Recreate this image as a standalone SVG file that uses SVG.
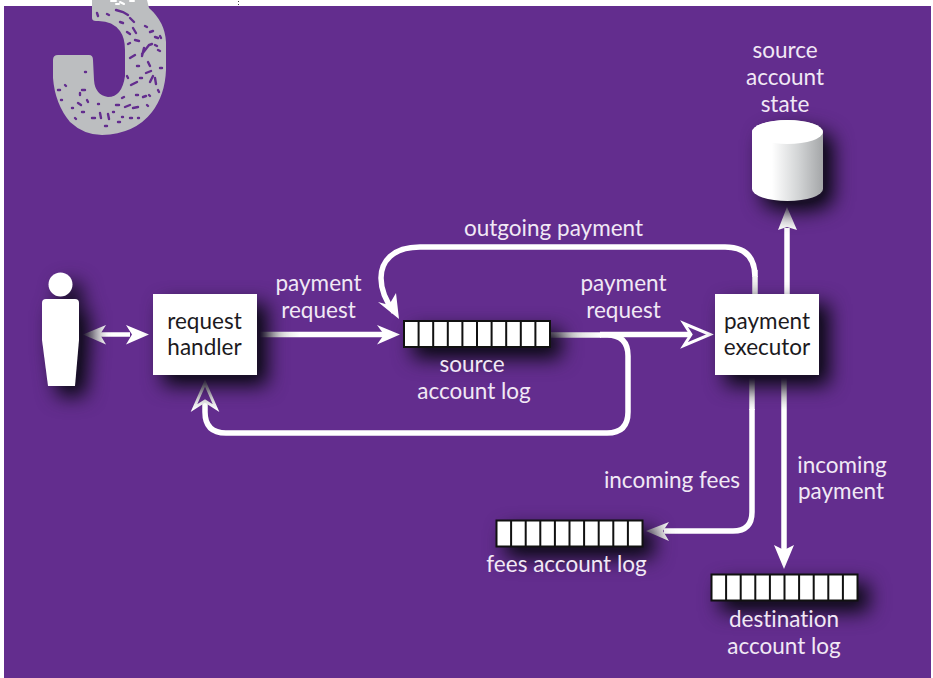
<svg xmlns="http://www.w3.org/2000/svg" width="933" height="678" viewBox="0 0 933 678">
<style>
text{font-family:"Lato","Noto Sans",sans-serif;font-size:22.5px;text-anchor:middle;font-variant-ligatures:none}
.l{fill:#f1e8f5}
.d{fill:#1c1a1e}
.box{fill:#fff}
.cell{fill:#fff;stroke:#111;stroke-width:2}
.w{fill:none;stroke:#fff;stroke-width:5.500;stroke-linejoin:round}
.hd{fill:#fff}
.ho{fill:#632d8e;stroke:#fff;stroke-width:3;stroke-linejoin:miter}
</style>
<defs>
<filter id="sh" x="-100%" y="-200%" width="300%" height="500%" color-interpolation-filters="sRGB">
<feGaussianBlur in="SourceAlpha" stdDeviation="10"/><feOffset dx="10" dy="10"/>
<feColorMatrix values="0 0 0 0 .1  0 0 0 0 .06  0 0 0 0 .16  0 0 0 1.300 0"/>
<feMerge><feMergeNode/><feMergeNode in="SourceGraphic"/></feMerge>
</filter>
<linearGradient id="cyl" x1="752" x2="823" y1="0" y2="0" gradientUnits="userSpaceOnUse">
<stop offset="0" stop-color="#fff"/><stop offset=".28" stop-color="#fff"/><stop offset=".65" stop-color="#d3d5d6"/><stop offset="1" stop-color="#a4a6a8"/>
</linearGradient>
<linearGradient id="gH1" x1="257" x2="300" y1="0" y2="0" gradientUnits="userSpaceOnUse"><stop offset="0" stop-color="#bbb"/><stop offset="1" stop-color="#fff"/></linearGradient>
<linearGradient id="gH2" x1="551" x2="600" y1="0" y2="0" gradientUnits="userSpaceOnUse"><stop offset="0" stop-color="#bbb"/><stop offset="1" stop-color="#fff"/></linearGradient>
<linearGradient id="gV1" x1="0" x2="0" y1="376" y2="410" gradientUnits="userSpaceOnUse"><stop offset="0" stop-color="#aaa"/><stop offset="1" stop-color="#fff"/></linearGradient>
<linearGradient id="gV2" x1="0" x2="0" y1="294" y2="270" gradientUnits="userSpaceOnUse"><stop offset="0" stop-color="#ddd"/><stop offset="1" stop-color="#fff"/></linearGradient>
<linearGradient id="gL" x1="83" x2="108" y1="0" y2="0" gradientUnits="userSpaceOnUse"><stop offset="0" stop-color="#c4c4c4"/><stop offset="1" stop-color="#fff"/></linearGradient>
<linearGradient id="gF" x1="646" x2="672" y1="0" y2="0" gradientUnits="userSpaceOnUse"><stop offset="0" stop-color="#c4c4c4"/><stop offset="1" stop-color="#fff"/></linearGradient>
<linearGradient id="gU" x1="0" x2="0" y1="381" y2="410" gradientUnits="userSpaceOnUse"><stop offset="0" stop-color="#aaa"/><stop offset="1" stop-color="#fff"/></linearGradient>
<linearGradient id="gS" x1="0" x2="0" y1="207" y2="232" gradientUnits="userSpaceOnUse"><stop offset="0" stop-color="#e8e8e8"/><stop offset="1" stop-color="#fff"/></linearGradient>
</defs>
<rect width="933" height="678" fill="#fff"/>
<rect x="4" y="6" width="927" height="672" fill="#632d8e"/>
<rect x="238" y="1" width="1" height="1" fill="#444"/><rect x="238" y="4" width="1" height="1" fill="#444"/>

<g id="numeral">
<path d="M92 0V18Q92 21 96 21Q112 20 120 31Q125 38 125 50V76Q122 97 108 97Q95 95 94 80L93 60Q93 55 89 55H58Q53 55 53 60V78Q55 104 70 122Q84 135 102 135Q135 134 152 112Q165 95 166 70V42Q165 22 149 8L147 0Z" fill="#bcbec0"/>
<path d="M111 1h5M120 2l4 2M130 1h4M116 4h3" stroke="#fff" stroke-width="2" stroke-linecap="round" fill="none"/>
<path d="M116 10l7 2 5 3M97 13l1 3M107 14l2 1M130 18l4 4M120 22l3 1M133 28l3 5M127 32l3 2M145 26l2 1M150 32l3-1M128 44l2-1M135 40l4 1M142 54l7-9 3-1M144 48l-2 8M155 37l3 1M160 36l1 2M155 45l2 1M130 58l5-3M148 62l2 4M158 50l2 1M137 66l2 0M160 68l2 0M131 85l6-3M146 73l5-2M150 82l3-6M155 78l1 6M140 78l2 0M158 90l1 2M127 76l1 2M149 95l1 1M136 95l2 0M143 97l3-1M125 107l5-2M133 108l5-1M130 118l2 0M122 98l2-1M116 105l3 0M108 114l1 5M100 113l1 5M105 126l2 0M92 118l3 0M78 103l3 2M84 112l-2 0M72 108l1 0M75 118l1 1M65 85l1 1M58 90l2 0M82 90l3 0M85 72l1 0M80 93l0 2M61 100l1 0M87 100l1 2M118 122l2 0M138 118l1 0M147 105l1 1M113 112l1 0M98 104l1 0M122 117l1 0" stroke="#632d8e" stroke-width="2.400" stroke-linecap="round" fill="none"/>
</g>

<g id="connectors">
<path class="w" style="stroke:url(#gL);stroke-width:4.500" d="M100 334.500H130"/>
<path d="M83 334.500L106 325L100 334.500L106 344.500Z" fill="url(#gL)"/>
<path class="hd" d="M149 334.500L126 325L132 334.500L126 344.500Z"/>

<path class="w" style="stroke:url(#gH1)" d="M257 334.500H385"/>
<path class="hd" d="M400 334.500L377 325L384 334.500L377 344.500Z"/>

<path class="w" d="M600 335H607Q628 335 628 356V412Q628 433 607 433H226Q205 433 205 412V402"/>
<path class="w" style="stroke:url(#gH2)" d="M551 335H601"/>
<path class="w" d="M600 334.500H692"/>
<path class="ho" d="M710 334.500L684 323.500L691 334.500L684 345.500Z"/>

<path class="ho" d="M205 383L194 408L205 401L216 408Z" style="stroke:url(#gU)"/>

<path class="w" d="M755 270V277M725 247Q755 247 755 277M725 247H420C392 247 381 262 381 278C381 292 388 304 394 312"/>
<path class="w" style="stroke:url(#gV2)" d="M755 294V276"/>
<path class="hd" d="M399 319L378 302L389 305L396 293Z"/>

<path class="w" d="M787 294V228"/>
<path d="M787 207L778 230L787 227L797 230Z" fill="url(#gS)"/>

<path class="w" d="M752 409V512Q752 531 733 531H664"/>
<path class="w" style="stroke:url(#gV1)" d="M752 376V410"/>
<path d="M646 531L669 522L663 531L669 541Z" fill="url(#gF)"/>

<path class="w" style="stroke:url(#gV1)" d="M784 376V552"/>
<path class="hd" d="M784 569L774 545L784 550L794 545Z"/>
</g>

<g id="user" filter="url(#sh)">
<circle cx="60.500" cy="284.500" r="12" fill="#fff"/>
<path d="M46 299H75Q79 299 79 303V340L75 386H48L42 340V303Q42 299 46 299Z" fill="#fff"/>
</g>

<g id="request-handler">
<rect class="box" x="153" y="294" width="104" height="81" filter="url(#sh)"/>
<text class="d" x="204.500" y="328.500">request</text>
<text class="d" x="204.500" y="355">handler</text>
</g>

<g id="payment-executor">
<rect class="box" x="715" y="294" width="104" height="81" filter="url(#sh)"/>
<text class="d" x="767" y="328.500">payment</text>
<text class="d" x="767" y="355">executor</text>
</g>

<g id="source-account-log">
<g filter="url(#sh)"><rect class="cell" x="404" y="321" width="146" height="26"/></g>
<path d="M418.600 321v26M433.200 321v26M447.800 321v26M462.400 321v26M477 321v26M491.600 321v26M506.200 321v26M520.800 321v26M535.400 321v26" stroke="#111" stroke-width="2" fill="none"/>
<text class="l" x="472" y="372">source</text>
<text class="l" x="474" y="399">account log</text>
</g>

<g id="fees-account-log">
<g filter="url(#sh)"><rect class="cell" x="496.500" y="520.500" width="146" height="26"/></g>
<path d="M511.100 520v27M525.700 520v27M540.300 520v27M554.900 520v27M569.500 520v27M584.100 520v27M598.700 520v27M613.300 520v27M627.900 520v27" stroke="#111" stroke-width="2" fill="none"/>
<text class="l" x="566.500" y="572">fees account log</text>
</g>

<g id="destination-account-log">
<g filter="url(#sh)"><rect class="cell" x="711.500" y="574.500" width="146" height="26"/></g>
<path d="M726.100 574v27M740.700 574v27M755.300 574v27M769.900 574v27M784.500 574v27M799.100 574v27M813.700 574v27M828.300 574v27M842.900 574v27" stroke="#111" stroke-width="2" fill="none"/>
<text class="l" x="784" y="627">destination</text>
<text class="l" x="784" y="654">account log</text>
</g>

<g id="source-account-state">
<g filter="url(#sh)">
<path d="M752 132A35.500 12 0 0 1 823 132V189A35.500 12 0 0 1 752 189Z" fill="url(#cyl)"/>
</g>
<ellipse cx="787.500" cy="132" rx="35.500" ry="12" fill="#fff"/>
<text class="l" x="785" y="58">source</text>
<text class="l" x="785" y="85">account</text>
<text class="l" x="785" y="111.500">state</text>
</g>

<g id="labels">
<text class="l" x="318.500" y="291">payment</text>
<text class="l" x="318.500" y="318">request</text>
<text class="l" x="623.500" y="291">payment</text>
<text class="l" x="623.500" y="318">request</text>
<text class="l" x="553.500" y="235.500">outgoing payment</text>
<text class="l" x="672" y="487.500">incoming fees</text>
<text class="l" x="842" y="473">incoming</text>
<text class="l" x="841" y="499">payment</text>
</g>
</svg>
